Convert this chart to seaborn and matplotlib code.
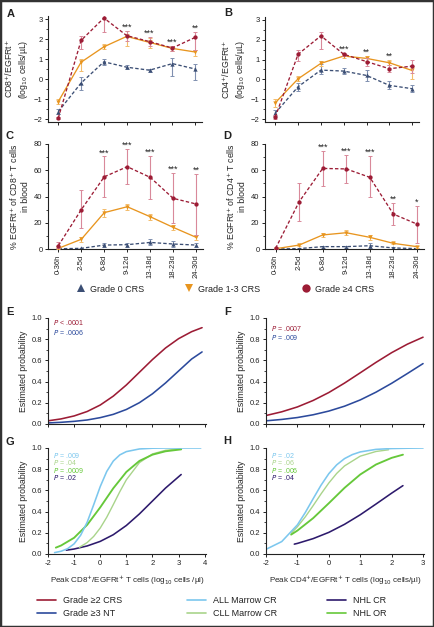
import numpy as np
import matplotlib
matplotlib.use('Agg')
import matplotlib.pyplot as plt
import seaborn as sns
from matplotlib.lines import Line2D
from matplotlib.patches import Rectangle
from matplotlib.ticker import MultipleLocator

# categorias de tiempo
periods = ['0-36h', '2-5d', '6-8d', '9-12d', '13-18d', '18-23d', '24-30d']

# Panel A: CD8+/EGFRt+ (log10 cells/uL)
a_g0 = [-1.63, -0.20, 0.86, 0.59, 0.44, 0.77, 0.50]
a_g0_lo = [-1.75, -0.54, 0.69, 0.50, 0.35, 0.17, -0.03]
a_g0_hi = [-1.50, 0.10, 1.00, 0.68, 0.52, 1.06, 0.76]
a_g13 = [-1.13, 0.84, 1.61, 2.13, 1.83, 1.53, 1.35]
a_g13_lo = [-1.25, 0.39, 1.48, 1.65, 1.55, 1.42, 1.17]
a_g13_hi = [-1.00, 1.00, 1.73, 2.40, 2.05, 1.63, 1.47]
a_g4 = [-1.95, 1.93, 3.05, 2.17, 1.87, 1.55, 2.08]
a_g4_lo = [-2.02, 1.50, 2.35, 1.90, 1.67, 1.42, 1.47]
a_g4_hi = [-1.88, 2.17, 3.30, 2.40, 2.10, 1.65, 2.35]
a_stars = ['', '', '', '***', '***', '***', '**']

# Panel B: CD4+/EGFRt+ (log10 cells/uL)
b_g0 = [-1.70, -0.37, 0.47, 0.42, 0.20, -0.30, -0.47]
b_g0_lo = [-1.85, -0.59, 0.25, 0.25, -0.08, -0.47, -0.64]
b_g0_hi = [-1.55, -0.17, 0.76, 0.58, 0.47, -0.08, -0.30]
b_g13 = [-1.18, 0.03, 0.81, 1.18, 1.06, 0.84, 0.45]
b_g13_lo = [-1.38, -0.10, 0.70, 1.10, 0.95, 0.72, 0.00]
b_g13_hi = [-1.00, 0.15, 0.92, 1.26, 1.18, 0.96, 0.67]
b_g4 = [-1.90, 1.27, 2.20, 1.27, 0.90, 0.54, 0.67]
b_g4_lo = [-2.00, 0.93, 1.52, 1.18, 0.67, 0.37, 0.34]
b_g4_hi = [-1.80, 1.50, 2.40, 1.35, 1.10, 0.71, 1.00]
b_stars = ['', '', '', '***', '**', '**', '']

# Panel C: % EGFRt+ of CD8+ T cells
c_g0 = [0.2, 0.5, 3.0, 3.3, 5.0, 3.8, 3.0]
c_g0_lo = [0.0, 0.2, 1.8, 1.8, 3.0, 1.8, 1.3]
c_g0_hi = [0.4, 0.8, 4.2, 4.2, 7.4, 6.3, 4.8]
c_g13 = [0.5, 7.4, 27.7, 32.2, 24.6, 16.5, 8.9]
c_g13_lo = [0.2, 5.6, 24.6, 29.7, 22.0, 14.5, 6.9]
c_g13_hi = [0.8, 9.4, 30.5, 34.5, 27.0, 18.3, 11.0]
c_g4 = [2.5, 30.0, 55.0, 62.7, 54.6, 38.6, 34.3]
c_g4_lo = [0.5, 16.0, 40.0, 49.5, 37.8, 19.5, 10.7]
c_g4_hi = [5.0, 45.0, 70.5, 76.0, 71.0, 57.6, 57.0]
c_stars = ['', '', '***', '***', '***', '***', '**']

# Panel D: % EGFRt+ of CD4+ T cells
d_g0 = [0.0, 0.3, 1.8, 1.8, 2.5, 0.8, 0.3]
d_g0_lo = [0.0, 0.1, 1.0, 1.0, 1.0, 0.3, 0.1]
d_g0_hi = [0.2, 0.5, 2.5, 2.5, 4.3, 1.3, 0.6]
d_g13 = [0.2, 3.0, 10.7, 12.4, 8.9, 4.3, 1.8]
d_g13_lo = [0.1, 2.3, 8.9, 10.7, 6.9, 3.5, 1.0]
d_g13_hi = [0.4, 3.7, 12.4, 14.5, 10.7, 5.1, 2.6]
d_g4 = [0.5, 36.0, 61.4, 61.0, 54.6, 26.6, 19.0]
d_g4_lo = [0.2, 21.3, 48.0, 50.0, 40.0, 18.3, 4.3]
d_g4_hi = [0.8, 50.5, 75.0, 71.6, 70.8, 35.3, 33.0]
d_stars = ['', '', '***', '***', '***', '**', '*']

# Panel E (CD8 peak) / F (CD4 peak): estimated probability
e_x = [-2, -1.5, -1, -0.5, 0, 0.5, 1, 1.5, 2, 2.5, 3, 3.5, 3.9]
e_crs = [0.030, 0.048, 0.076, 0.118, 0.179, 0.263, 0.368, 0.488, 0.608, 0.717, 0.805, 0.871, 0.909]
e_nt = [0.010, 0.016, 0.025, 0.038, 0.060, 0.091, 0.137, 0.201, 0.285, 0.387, 0.500, 0.613, 0.680]
f_x = [-2, -1.5, -1, -0.5, 0, 0.5, 1, 1.5, 2, 2.5, 3]
f_crs = [0.080, 0.115, 0.161, 0.222, 0.297, 0.386, 0.483, 0.581, 0.673, 0.753, 0.819]
f_nt = [0.030, 0.043, 0.061, 0.087, 0.122, 0.168, 0.227, 0.300, 0.384, 0.476, 0.570]

# Panel G (CD8 peak)
g_all_x = [-1.75, -1.5, -1.25, -1, -0.75, -0.5, -0.25, 0, 0.25, 0.5, 0.75, 1, 1.5, 2, 2.5, 3, 3.5, 3.85]
g_all = [0.013, 0.026, 0.050, 0.096, 0.177, 0.300, 0.465, 0.636, 0.779, 0.877, 0.935, 0.966, 0.991, 0.998, 1.0, 1.0, 1.0, 1.0]
g_cll_x = [-0.8, -0.5, -0.25, 0, 0.25, 0.5, 0.75, 1, 1.5, 2, 2.5, 3.1]
g_cll = [0.063, 0.108, 0.166, 0.245, 0.347, 0.466, 0.588, 0.700, 0.862, 0.944, 0.978, 0.993]
g_nhlcr_x = [-1.3, -1, -0.5, 0, 0.5, 1, 1.5, 2, 2.5, 3.1]
g_nhlcr = [0.036, 0.047, 0.076, 0.119, 0.182, 0.269, 0.378, 0.500, 0.622, 0.750]
g_nhlor_x = [-1.7, -1.5, -1, -0.5, 0, 0.5, 1, 1.5, 2, 2.5, 3.1]
g_nhlor = [0.060, 0.080, 0.153, 0.275, 0.440, 0.620, 0.774, 0.878, 0.937, 0.969, 0.987]

# Panel H (CD4 peak)
h_all_x = [-2, -1.5, -1, -0.75, -0.5, -0.25, 0, 0.25, 0.5, 0.75, 1, 1.5, 2, 2.5, 3]
h_all = [0.044, 0.117, 0.275, 0.391, 0.521, 0.648, 0.758, 0.841, 0.900, 0.938, 0.963, 0.987, 0.995, 0.998, 1.0]
h_cll_x = [-1.2, -1, -0.75, -0.5, -0.25, 0, 0.25, 0.5, 1, 1.5, 1.9]
h_cll = [0.195, 0.257, 0.350, 0.456, 0.566, 0.670, 0.760, 0.831, 0.923, 0.967, 0.983]
h_nhlcr_x = [-1.1, -1, -0.5, 0, 0.5, 1, 1.5, 2, 2.36]
h_nhlcr = [0.093, 0.100, 0.145, 0.204, 0.280, 0.370, 0.471, 0.574, 0.645]
h_nhlor_x = [-1.2, -1, -0.5, 0, 0.5, 1, 1.5, 2, 2.36]
h_nhlor = [0.183, 0.221, 0.338, 0.479, 0.624, 0.750, 0.844, 0.907, 0.937]

e_pvals = ['< .0001', '= .0006']
f_pvals = ['= .0007', '= .009']
g_pvals = ['= .009', '= .04', '= .0009', '= .02']
h_pvals = ['= .02', '= .06', '= .006', '= .04']

# colores
RED = '#9c1c35'
ORANGE = '#e8951f'
SLATE = '#3b4e74'
NAVY = '#2c4a9c'
SKY = '#7cc7ee'
PALEGREEN = '#a9d48b'
GREEN = '#66c83a'
PURPLE = '#2d1a6c'

sns.set_theme(style='ticks')
plt.rcParams['font.family'] = ['Liberation Sans', 'DejaVu Sans']
plt.rcParams.update({
    'axes.linewidth': 0.8, 'axes.edgecolor': '#222222',
    'xtick.major.size': 2.5, 'ytick.major.size': 2.5,
    'xtick.minor.size': 1.5, 'ytick.minor.size': 1.5,
    'xtick.major.width': 0.7, 'ytick.major.width': 0.7,
    'xtick.minor.width': 0.6, 'ytick.minor.width': 0.6,
    'xtick.labelsize': 5.5, 'ytick.labelsize': 5.5,
    'xtick.major.pad': 1.5, 'ytick.major.pad': 1.5,
    'axes.labelsize': 6.3, 'text.color': '#222222',
    'xtick.color': '#222222', 'ytick.color': '#222222',
})

W, H = 434, 627
fig = plt.figure(figsize=(W / 100, H / 100), dpi=100)


def box(l, t, r, b):
    return fig.add_axes([l / W, 1 - b / H, (r - l) / W, (b - t) / H])


def line_panel(ax, series, stars, ylim, step, minor, ylabel, labels):
    x = np.arange(len(periods))
    for mean, lo, hi, col, ecol, ls, mk, z in series:
        m = np.array(mean)
        err = [m - np.array(lo), np.array(hi) - m]
        ax.errorbar(x, m, yerr=err, fmt='none', ecolor=ecol, elinewidth=0.8,
                    capsize=1.5, capthick=0.7, zorder=z)
        sns.lineplot(x=x, y=m, ax=ax, color=col, linestyle=ls, lw=0.95,
                     marker=mk, markersize=3.1, markeredgewidth=0, zorder=z + 0.5)
    rng = ylim[1] - ylim[0]
    for i, s in enumerate(stars):
        if s:
            top = max(sr[2][i] for sr in series)
            ax.text(i, top + 0.035 * rng, s, ha='center', va='center', fontsize=6.5)
    ax.set_xlim(-0.45, 6.3)
    ax.set_ylim(*ylim)
    ax.yaxis.set_major_locator(MultipleLocator(step))
    ax.yaxis.set_minor_locator(MultipleLocator(minor))
    ax.set_xticks(x)
    if labels:
        ax.set_xticklabels(periods, rotation=90)
    else:
        ax.set_xticklabels([])
    ax.set_ylabel(ylabel, labelpad=3)
    sns.despine(ax=ax)


def series_of(g0, g0lo, g0hi, g13, g13lo, g13hi, g4, g4lo, g4hi):
    return [
        (g0, g0lo, g0hi, SLATE, '#8090b0', (0, (2.6, 1.6)), '^', 2),
        (g13, g13lo, g13hi, ORANGE, '#f3bd6c', '-', 'v', 3),
        (g4, g4lo, g4hi, RED, '#d9899a', (0, (2.6, 1.6)), 'o', 4),
    ]


axA = box(48, 16, 202, 122)
line_panel(axA, series_of(a_g0, a_g0_lo, a_g0_hi, a_g13, a_g13_lo, a_g13_hi, a_g4, a_g4_lo, a_g4_hi),
           a_stars, (-2.15, 3.15), 1, 0.5,
           'CD8$^{+}$/EGFRt$^{+}$\n(log$_{10}$ cells/µL)', False)
axB = box(265, 17, 419, 122)
line_panel(axB, series_of(b_g0, b_g0_lo, b_g0_hi, b_g13, b_g13_lo, b_g13_hi, b_g4, b_g4_lo, b_g4_hi),
           b_stars, (-2.15, 3.15), 1, 0.5,
           'CD4$^{+}$/EGFRt$^{+}$\n(log$_{10}$ cells/µL)', False)
axC = box(48, 144, 203, 249)
line_panel(axC, series_of(c_g0, c_g0_lo, c_g0_hi, c_g13, c_g13_lo, c_g13_hi, c_g4, c_g4_lo, c_g4_hi),
           c_stars, (0, 80), 20, 10,
           '% EGFRt$^{+}$ of CD8$^{+}$ T cells\nin blood', True)
axD = box(265, 144, 424, 249)
line_panel(axD, series_of(d_g0, d_g0_lo, d_g0_hi, d_g13, d_g13_lo, d_g13_hi, d_g4, d_g4_lo, d_g4_hi),
           d_stars, (0, 80), 20, 10,
           '% EGFRt$^{+}$ of CD4$^{+}$ T cells\nin blood', True)

# leyenda de grados CRS
leg1 = [('^', SLATE, 'Grade 0 CRS', 76), ('v', ORANGE, 'Grade 1-3 CRS', 184), ('o', RED, 'Grade ≥4 CRS', 301)]
for mk, col, lab, px in leg1:
    h = Line2D([], [], ls='none', marker=mk, color=col, markersize=6, markeredgewidth=0)
    fig.legend(handles=[h], labels=[lab], loc='center left', bbox_to_anchor=(px / W, 1 - 289 / H),
               frameon=False, fontsize=6.5, handlelength=1, handletextpad=0.6,
               borderpad=0, borderaxespad=0)


def prob_panel(ax, curves, xlim, xticks, pvals, p_xy, p_step, show_x, xlabel):
    for xs, ys, col, lw in curves:
        sns.lineplot(x=xs, y=ys, ax=ax, color=col, lw=lw)
    ax.set_xlim(*xlim)
    ax.set_ylim(0, 1.0)
    ax.set_xticks(xticks)
    ax.yaxis.set_major_locator(MultipleLocator(0.2))
    ax.yaxis.set_minor_locator(MultipleLocator(0.1))
    ax.yaxis.set_major_formatter(matplotlib.ticker.FormatStrFormatter('%.1f'))
    if show_x:
        ax.set_xticklabels([str(t) for t in xticks])
        ax.set_xlabel(xlabel, labelpad=5, fontsize=5.8)
    else:
        ax.set_xticklabels([])
    ax.set_ylabel('Estimated probability', labelpad=3)
    for k, (txt, col) in enumerate(pvals):
        ax.text(p_xy[0], p_xy[1] - k * p_step, r'$\it{P}$ ' + txt, color=col,
                fontsize=5, ha='left', va='center', transform=ax.transAxes)
    sns.despine(ax=ax)


axE = box(48, 318, 206, 424)
prob_panel(axE, [(e_x, e_crs, RED, 1.15), (e_x, e_nt, NAVY, 1.15)], (-2, 4.05), list(range(-2, 5)),
           list(zip(e_pvals, [RED, NAVY])), (0.03, 0.955), 0.09, False, '')
axF = box(266, 318, 424, 424)
prob_panel(axF, [(f_x, f_crs, RED, 1.15), (f_x, f_nt, NAVY, 1.15)], (-2, 3.03), list(range(-2, 4)),
           list(zip(f_pvals, [RED, NAVY])), (0.03, 0.905), 0.085, False, '')
axG = box(48, 448, 206, 554)
prob_panel(axG, [(g_nhlcr_x, g_nhlcr, PURPLE, 1.15), (g_cll_x, g_cll, PALEGREEN, 1.0),
                 (g_nhlor_x, g_nhlor, GREEN, 1.35), (g_all_x, g_all, SKY, 1.15)],
           (-2, 4.05), list(range(-2, 5)),
           list(zip(g_pvals, [SKY, PALEGREEN, GREEN, PURPLE])), (0.03, 0.93), 0.071, True,
           'Peak CD8$^{+}$/EGFRt$^{+}$ T cells (log$_{10}$ cells /µl)')
axH = box(266, 448, 424, 554)
prob_panel(axH, [(h_nhlcr_x, h_nhlcr, PURPLE, 1.15), (h_cll_x, h_cll, PALEGREEN, 1.0),
                 (h_nhlor_x, h_nhlor, GREEN, 1.35), (h_all_x, h_all, SKY, 1.15)],
           (-2, 3.03), list(range(-2, 4)),
           list(zip(h_pvals, [SKY, PALEGREEN, GREEN, PURPLE])), (0.03, 0.93), 0.071, True,
           'Peak CD4$^{+}$/EGFRt$^{+}$ T cells (log$_{10}$ cells/µl)')

# leyenda de curvas
leg2 = [([RED, NAVY], ['Grade ≥2 CRS', 'Grade ≥3 NT'], 37),
        ([SKY, PALEGREEN], ['ALL Marrow CR', 'CLL Marrow CR'], 187),
        ([PURPLE, GREEN], ['NHL CR', 'NHL OR'], 327)]
for cols, labs, px in leg2:
    hs = [Line2D([], [], color=c, lw=1.2) for c in cols]
    fig.legend(handles=hs, labels=labs, loc='center left', bbox_to_anchor=(px / W, 1 - 607 / H),
               frameon=False, fontsize=6.5, handlelength=2.1, handletextpad=0.8,
               borderpad=0, borderaxespad=0, labelspacing=0.45)

# letras de panel
for letter, px, py in [('A', 11, 14), ('B', 228, 13), ('C', 10, 136), ('D', 227, 136),
                       ('E', 10, 312), ('F', 228, 312), ('G', 10, 442), ('H', 227, 441)]:
    fig.text(px / W, 1 - py / H, letter, fontsize=8, fontweight='bold', ha='center', va='center')

fig.patches.append(Rectangle((0, 0), 1, 1, transform=fig.transFigure, fill=False,
                             edgecolor='#333333', lw=2.5, zorder=10))

fig.savefig('out.png', dpi=100)
